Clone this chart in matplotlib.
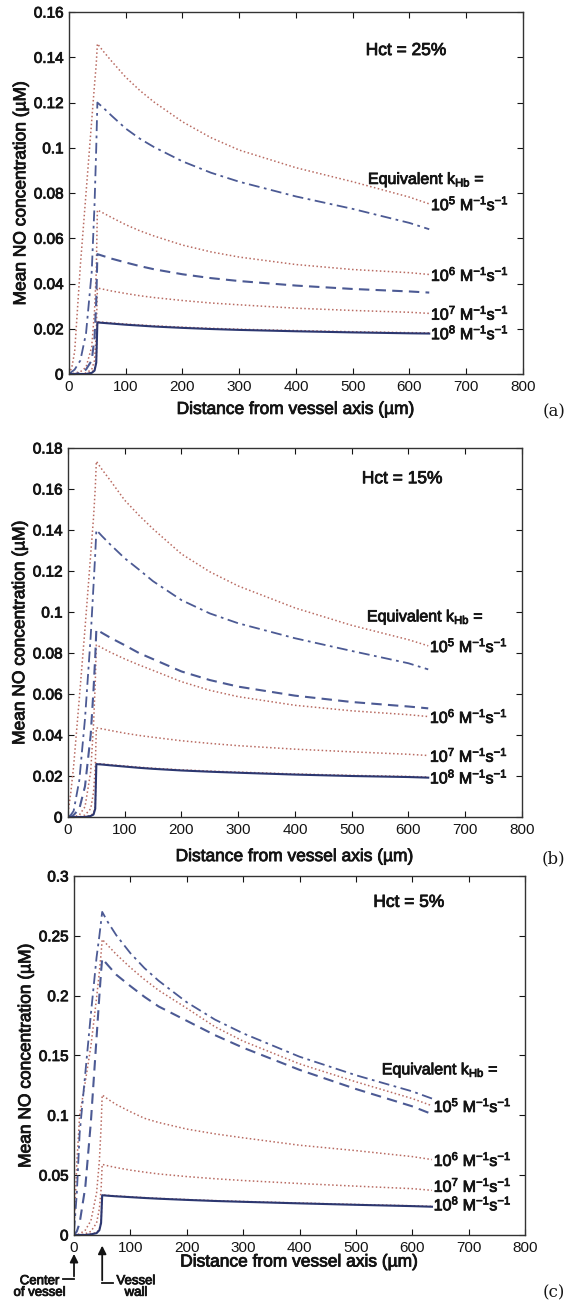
import matplotlib
matplotlib.use('Agg')
import matplotlib.pyplot as plt
import matplotlib.transforms as mtransforms
import matplotlib.patheffects as pe
from matplotlib.text import Text

plt.rcParams['font.family'] = ['Liberation Sans', 'DejaVu Sans']
plt.rcParams['mathtext.fontset'] = 'custom'
plt.rcParams['mathtext.rm'] = 'Liberation Sans'
plt.rcParams['mathtext.it'] = 'Liberation Sans:italic'
plt.rcParams['mathtext.bf'] = 'Liberation Sans:bold'

# distance from vessel axis (um), shared by every curve
x_um = [0, 5, 10, 20, 30, 40, 45, 48, 50, 60, 75, 100, 125, 150, 200, 250, 300, 400, 500, 600, 635]

# (a) Hct = 25%
a_k5 = [0.0, 0.003, 0.010, 0.048, 0.080, 0.112, 0.128, 0.137,
        0.146, 0.1428, 0.1383, 0.1312, 0.1253, 0.1202, 0.1115, 0.1045, 0.0990, 0.0912, 0.0850, 0.0782, 0.0752]
a_dd = [0.0, 0.001, 0.002, 0.006, 0.018, 0.045, 0.075, 0.100,
        0.120, 0.1178, 0.1142, 0.1085, 0.1040, 0.1003, 0.0940, 0.0890, 0.0850, 0.0785, 0.0730, 0.0668, 0.0640]
a_k6 = [0.0, 0.0, 0.0005, 0.001, 0.003, 0.012, 0.028, 0.045,
        0.0725, 0.0712, 0.0692, 0.0660, 0.0633, 0.0610, 0.0570, 0.0540, 0.0517, 0.0484, 0.0462, 0.0448, 0.0440]
a_dash = [0.0, 0.0, 0.0, 0.0005, 0.002, 0.006, 0.016, 0.032,
          0.0530, 0.0522, 0.0510, 0.0493, 0.0477, 0.0463, 0.0441, 0.0424, 0.0411, 0.0391, 0.0376, 0.0365, 0.0360]
a_k7 = [0.0, 0.0, 0.0, 0.0, 0.0005, 0.002, 0.006, 0.018,
        0.0380, 0.0375, 0.0367, 0.0356, 0.0346, 0.0338, 0.0325, 0.0314, 0.0306, 0.0291, 0.0281, 0.0273, 0.0268]
a_solid = [0.0, 0.0, 0.0, 0.0, 0.0, 0.0005, 0.0015, 0.005,
           0.0228, 0.0226, 0.0223, 0.0218, 0.0214, 0.0210, 0.0204, 0.0199, 0.0195, 0.0189, 0.0184, 0.0180, 0.0179]
a_k8 = [0.0, 0.0, 0.0, 0.0, 0.0, 0.0008, 0.002, 0.006,
        0.0231, 0.0229, 0.0226, 0.0221, 0.0217, 0.0213, 0.0207, 0.0202, 0.0198, 0.0192, 0.0187, 0.0183, 0.0182]

# (b) Hct = 15%
b_k5 = [0.002, 0.012, 0.025, 0.058, 0.092, 0.128, 0.146, 0.160,
        0.1735, 0.1695, 0.1640, 0.1545, 0.1472, 0.1405, 0.1283, 0.1196, 0.1127, 0.1020, 0.0935, 0.0865, 0.0835]
b_dd = [0.0, 0.001, 0.003, 0.018, 0.048, 0.088, 0.113, 0.128,
        0.1400, 0.1370, 0.1328, 0.1262, 0.1207, 0.1150, 0.1058, 0.0993, 0.0945, 0.0872, 0.0810, 0.0750, 0.0720]
b_k6 = [0.0, 0.0, 0.0, 0.001, 0.005, 0.022, 0.045, 0.065,
        0.0840, 0.0825, 0.0803, 0.0771, 0.0742, 0.0715, 0.0660, 0.0618, 0.0587, 0.0545, 0.0518, 0.0499, 0.0490]
b_dash = [0.0, 0.0, 0.001, 0.004, 0.015, 0.040, 0.062, 0.078,
          0.0915, 0.0898, 0.0874, 0.0838, 0.0800, 0.0770, 0.0710, 0.0668, 0.0636, 0.0592, 0.0561, 0.0539, 0.0530]
b_k7 = [0.0, 0.0, 0.0, 0.0, 0.001, 0.004, 0.012, 0.024,
        0.0435, 0.0430, 0.0422, 0.0409, 0.0398, 0.0389, 0.0372, 0.0359, 0.0348, 0.0331, 0.0318, 0.0306, 0.0300]
b_solid = [0.0, 0.0, 0.0, 0.0, 0.0, 0.0005, 0.0012, 0.004,
           0.0258, 0.0256, 0.0252, 0.0246, 0.0240, 0.0235, 0.0227, 0.0221, 0.0216, 0.0207, 0.0200, 0.0195, 0.0192]
b_k8 = [0.0, 0.0, 0.0, 0.0, 0.0, 0.0008, 0.0018, 0.005,
        0.0261, 0.0259, 0.0255, 0.0249, 0.0243, 0.0238, 0.0230, 0.0224, 0.0219, 0.0210, 0.0203, 0.0198, 0.0195]

# (c) Hct = 5%
c_dd = [0.003, 0.035, 0.085, 0.135, 0.185, 0.232, 0.250, 0.262,
        0.270, 0.2615, 0.2505, 0.2355, 0.2230, 0.2125, 0.1945, 0.1800, 0.1685, 0.1490, 0.1335, 0.1200, 0.1140]
c_k5 = [0.004, 0.060, 0.100, 0.128, 0.158, 0.198, 0.220, 0.235,
        0.247, 0.2420, 0.2345, 0.2235, 0.2135, 0.2045, 0.1895, 0.1740, 0.1620, 0.1430, 0.1280, 0.1140, 0.1080]
c_dash = [0.0, 0.003, 0.010, 0.040, 0.095, 0.165, 0.200, 0.220,
          0.231, 0.2255, 0.2175, 0.2080, 0.1990, 0.1910, 0.1790, 0.1670, 0.1565, 0.1380, 0.1220, 0.1075, 0.1010]
c_k6 = [0.0, 0.0, 0.001, 0.004, 0.012, 0.035, 0.062, 0.090,
        0.117, 0.1135, 0.1090, 0.1030, 0.0975, 0.0940, 0.0885, 0.0845, 0.0812, 0.0750, 0.0705, 0.0655, 0.0630]
c_k7 = [0.0, 0.0, 0.0, 0.001, 0.003, 0.010, 0.022, 0.038,
        0.0590, 0.0578, 0.0563, 0.0542, 0.0525, 0.0510, 0.0488, 0.0470, 0.0455, 0.0430, 0.0408, 0.0387, 0.0373]
c_solid = [0.0, 0.0, 0.0, 0.0, 0.0005, 0.0015, 0.004, 0.010,
           0.0332, 0.0328, 0.0323, 0.0316, 0.0309, 0.0303, 0.0293, 0.0284, 0.0277, 0.0264, 0.0252, 0.0241, 0.0236]
c_k8 = [0.0, 0.0, 0.0, 0.0, 0.0008, 0.002, 0.005, 0.011,
        0.0335, 0.0331, 0.0326, 0.0319, 0.0312, 0.0306, 0.0296, 0.0287, 0.0280, 0.0267, 0.0255, 0.0244, 0.0239]

x_ticks = [0, 100, 200, 300, 400, 500, 600, 700, 800]
a_yticks = [0, 0.02, 0.04, 0.06, 0.08, 0.1, 0.12, 0.14, 0.16]
b_yticks = [0, 0.02, 0.04, 0.06, 0.08, 0.1, 0.12, 0.14, 0.16, 0.18]
c_yticks = [0, 0.05, 0.1, 0.15, 0.2, 0.25, 0.3]
hct_labels = ['Hct = 25%', 'Hct = 15%', 'Hct = 5%']
k_labels = [r'10$^5$ M$^{-1}$s$^{-1}$', r'10$^6$ M$^{-1}$s$^{-1}$',
            r'10$^7$ M$^{-1}$s$^{-1}$', r'10$^8$ M$^{-1}$s$^{-1}$']

RED = '#b96b62'
BLUE = '#4c5a94'
NAVY = '#2c3770'
TXT = '#141414'
DOT = (0, (1, 1.6))
DASHDOT = (0, (6, 2.5, 1.5, 2.5))
DASH = (0, (5, 3))

fig = plt.figure(figsize=(5.68, 13.11), dpi=100)

panels = [
    dict(rect=[0.1215, 0.7147, 0.799, 0.2761], ymax=0.16, yticks=a_yticks,
         blue=[(a_dd, DASHDOT, 1.3, BLUE), (a_dash, DASH, 1.5, BLUE), (a_solid, '-', 1.5, NAVY)],
         red=[a_k5, a_k6, a_k7, a_k8], lab_dy=[0, 0, 0, 0],
         hct=(523, 0.143), eq=(527, 0.086), letter=('(a)', 0.686), xpad=6),
    dict(rect=[0.1197, 0.3768, 0.799, 0.2815], ymax=0.18, yticks=b_yticks,
         blue=[(b_dd, DASHDOT, 1.3, BLUE), (b_dash, DASH, 1.5, BLUE), (b_solid, '-', 1.5, NAVY)],
         red=[b_k5, b_k6, b_k7, b_k8], lab_dy=[0, 0, 0, 0],
         hct=(518, 0.165), eq=(527, 0.0976), letter=('(b)', 0.3445), xpad=9),
    dict(rect=[0.1303, 0.058, 0.794, 0.2738], ymax=0.3, yticks=c_yticks,
         blue=[(c_dd, DASHDOT, 1.3, BLUE), (c_dash, DASH, 1.5, BLUE), (c_solid, '-', 1.5, NAVY)],
         red=[c_k5, c_k6, c_k7, c_k8], lab_dy=[0, 0, 0.004, 0.002],
         hct=(531, 0.278), eq=(546, 0.138), letter=('(c)', 0.0137), xpad=0),
]

axes = []
for i, p in enumerate(panels):
    ax = fig.add_axes(p['rect'])
    axes.append(ax)
    for ys in p['red']:
        ax.plot(x_um, ys, color=RED, linestyle=DOT, linewidth=1.1)
    for ys, ls, lw, col in p['blue']:
        ax.plot(x_um, ys, color=col, linestyle=ls, linewidth=lw)

    ax.set_xlim(0, 800)
    ax.set_ylim(0, p['ymax'])
    ax.set_xticks(x_ticks)
    ax.set_yticks(p['yticks'])
    ax.set_yticklabels(['%g' % v for v in p['yticks']])
    ax.tick_params(direction='in', top=True, right=True, length=4, width=0.8,
                   labelsize=11, colors=TXT, pad=4)
    for s in ax.spines.values():
        s.set_linewidth(1.0)
        s.set_color('#333333')
    ax.set_xlabel('Distance from vessel axis (\u00b5m)', fontsize=12.5, color=TXT, labelpad=p['xpad'])
    ax.set_ylabel('Mean NO concentration (\u00b5M)', fontsize=12.5, color=TXT, labelpad=4)

    ax.text(p['hct'][0], p['hct'][1], hct_labels[i], fontsize=12.5, color=TXT, va='center')
    ax.text(p['eq'][0], p['eq'][1], r'Equivalent k$_{\rm Hb}$ =', fontsize=11.5, color=TXT, va='center')
    for ys, lab, dy in zip(p['red'], k_labels, p['lab_dy']):
        ax.text(x_um[-1] + 3, ys[-1] + dy, lab, fontsize=11.5, color=TXT, va='center')

    fig.text(0.995, p['letter'][1], p['letter'][0], fontsize=12, family='DejaVu Serif',
             ha='right', va='center', color=TXT)

# arrows under panel (c)
ax = axes[2]
tr = mtransforms.blended_transform_factory(ax.transData, ax.transAxes)
ax.annotate('', xy=(0, -0.045), xytext=(0, -0.123), xycoords=tr, textcoords=tr,
            arrowprops=dict(arrowstyle='-|>', color=TXT, lw=1.3, mutation_scale=12),
            annotation_clip=False)
ax.plot([-19, 0], [-0.123, -0.123], transform=tr, color=TXT, lw=1.3, clip_on=False)
ax.annotate('', xy=(50, -0.022), xytext=(50, -0.134), xycoords=tr, textcoords=tr,
            arrowprops=dict(arrowstyle='-|>', color=TXT, lw=1.3, mutation_scale=12),
            annotation_clip=False)
ax.plot([50, 69], [-0.134, -0.134], transform=tr, color=TXT, lw=1.3, clip_on=False)
ax.text(-61, -0.145, 'Center\nof vessel', transform=tr, fontsize=9.5, color=TXT,
        ha='center', va='center', linespacing=0.95)
ax.text(110, -0.145, 'Vessel\nwall', transform=tr, fontsize=9.5, color=TXT,
        ha='center', va='center', linespacing=0.95)

# the scanned original prints heavy: thicken all sans text a little
for t in fig.findobj(Text):
    if t.get_text() and t.get_fontfamily()[0] != 'DejaVu Serif':
        t.set_path_effects([pe.withStroke(linewidth=0.6, foreground=TXT)])

fig.savefig('out.png', dpi=100)
